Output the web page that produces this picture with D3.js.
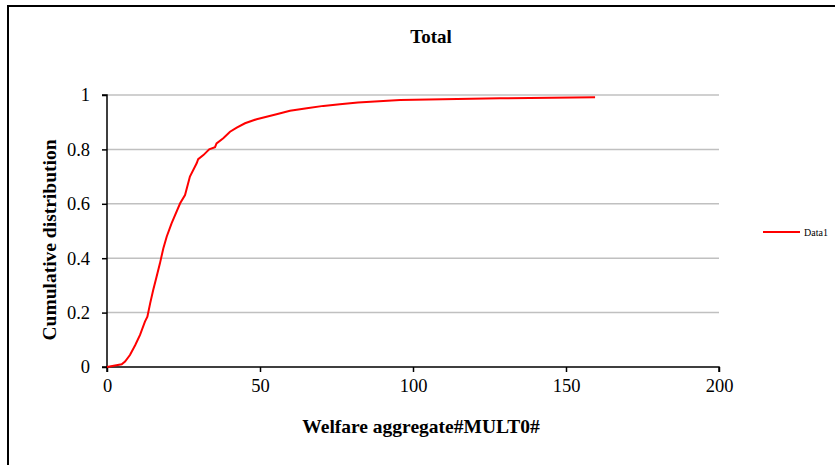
<!DOCTYPE html>
<html>
<head>
<meta charset="utf-8">
<script src="https://cdn.jsdelivr.net/npm/d3@7"></script>
<style>
  body { margin: 0; background: #fff; }
  svg { display: block; font-family: "Liberation Serif", "Times New Roman", serif; }
</style>
</head>
<body>
<div id="chart"></div>
<script>
// welfare aggregate values and their cumulative share
var welfare = [0, 4.8, 5.9, 7.5, 9.2, 10.8, 12.4, 13.2, 14.1, 15.1, 16.2, 17.3, 18.4, 19.5, 21.1,
  23.9, 25.5, 27.1, 29.3, 29.8, 31.5, 33.4, 35.3, 35.8, 38.0, 40.2, 42.4, 45.1, 48.9, 55.4,
  59.8, 65.3, 70.7, 76.1, 82, 95.8, 128.4, 159.5];
var cumulative = [0, 0.01, 0.02, 0.044, 0.08, 0.118, 0.167, 0.185, 0.234, 0.283, 0.332, 0.381, 0.436, 0.479, 0.528,
  0.602, 0.632, 0.70, 0.749, 0.764, 0.779, 0.80, 0.808, 0.822, 0.841, 0.865, 0.88, 0.896, 0.911, 0.929,
  0.942, 0.951, 0.96, 0.966, 0.972, 0.982, 0.988, 0.9915];
var xTicks = [0, 50, 100, 150, 200];
var yTicks = [0, 0.2, 0.4, 0.6, 0.8, 1];
var seriesName = 'Data1';

var width = 835, height = 465;
var plot = { left: 107, right: 719, top: 95, bottom: 367 };
var serif = '"Liberation Serif", "Times New Roman", serif';

var svg = d3.select('#chart').append('svg')
  .attr('width', width)
  .attr('height', height);

svg.append('rect')
  .attr('width', width).attr('height', height)
  .attr('fill', '#fff');

// outer frame (right and bottom edges fall outside the picture)
svg.append('rect')
  .attr('x', 8).attr('y', 6)
  .attr('width', 900).attr('height', 500)
  .attr('fill', 'none')
  .attr('stroke', '#000')
  .attr('stroke-width', 2);

var x = d3.scaleLinear().domain([0, 200]).range([plot.left, plot.right]);
var y = d3.scaleLinear().domain([0, 1]).range([plot.bottom, plot.top]);

// gridlines
svg.append('g')
  .selectAll('line')
  .data(yTicks.filter(function(d) { return d > 0; }))
  .join('line')
  .attr('x1', plot.left).attr('x2', plot.right)
  .attr('y1', function(d) { return y(d); })
  .attr('y2', function(d) { return y(d); })
  .attr('stroke', '#c0c0c0')
  .attr('stroke-width', 1.5);

var xAxis = svg.append('g')
  .attr('transform', 'translate(0,' + plot.bottom + ')')
  .call(d3.axisBottom(x).tickValues(xTicks).tickSize(5).tickPadding(7).tickFormat(d3.format('d')));

var yAxis = svg.append('g')
  .attr('transform', 'translate(' + plot.left + ',0)')
  .call(d3.axisLeft(y).tickValues(yTicks).tickSize(5).tickPadding(12).tickFormat(function(d) { return String(d); }));

[xAxis, yAxis].forEach(function(a) {
  a.attr('font-family', serif).attr('font-size', 18.5);
  a.select('.domain').attr('stroke', '#000').attr('stroke-width', 1.5);
  a.selectAll('.tick line').attr('stroke', '#000').attr('stroke-width', 1.5);
  a.selectAll('.tick text').attr('fill', '#000');
});
yAxis.select('.domain').attr('d', 'M-5,' + plot.top + 'H0V' + plot.bottom + 'H-5');
xAxis.select('.domain').attr('d', 'M' + plot.left + ',5V0H' + plot.right + 'V5');

var line = d3.line()
  .x(function(d, i) { return x(welfare[i]); })
  .y(function(d) { return y(d); });

svg.append('path')
  .datum(cumulative)
  .attr('d', line)
  .attr('fill', 'none')
  .attr('stroke', '#ff0000')
  .attr('stroke-width', 2);

// title and axis labels
svg.append('text')
  .attr('x', 431).attr('y', 43)
  .attr('text-anchor', 'middle')
  .style('font-weight', 'bold')
  .style('font-size', '19px')
  .text('Total');

svg.append('text')
  .attr('x', 421).attr('y', 433)
  .attr('text-anchor', 'middle')
  .style('font-weight', 'bold')
  .style('font-size', '19.5px')
  .text('Welfare aggregate#MULT0#');

svg.append('text')
  .attr('transform', 'translate(56,240)rotate(-90)')
  .attr('text-anchor', 'middle')
  .style('font-weight', 'bold')
  .style('font-size', '19.5px')
  .text('Cumulative distribution');

// legend
var legend = svg.append('g').attr('transform', 'translate(763,232)');
legend.append('line')
  .attr('x1', 0).attr('x2', 37)
  .attr('stroke', '#ff0000').attr('stroke-width', 2);
legend.append('text')
  .attr('x', 41).attr('y', 3.5)
  .style('font-size', '10px')
  .text(seriesName);
</script>
</body>
</html>
